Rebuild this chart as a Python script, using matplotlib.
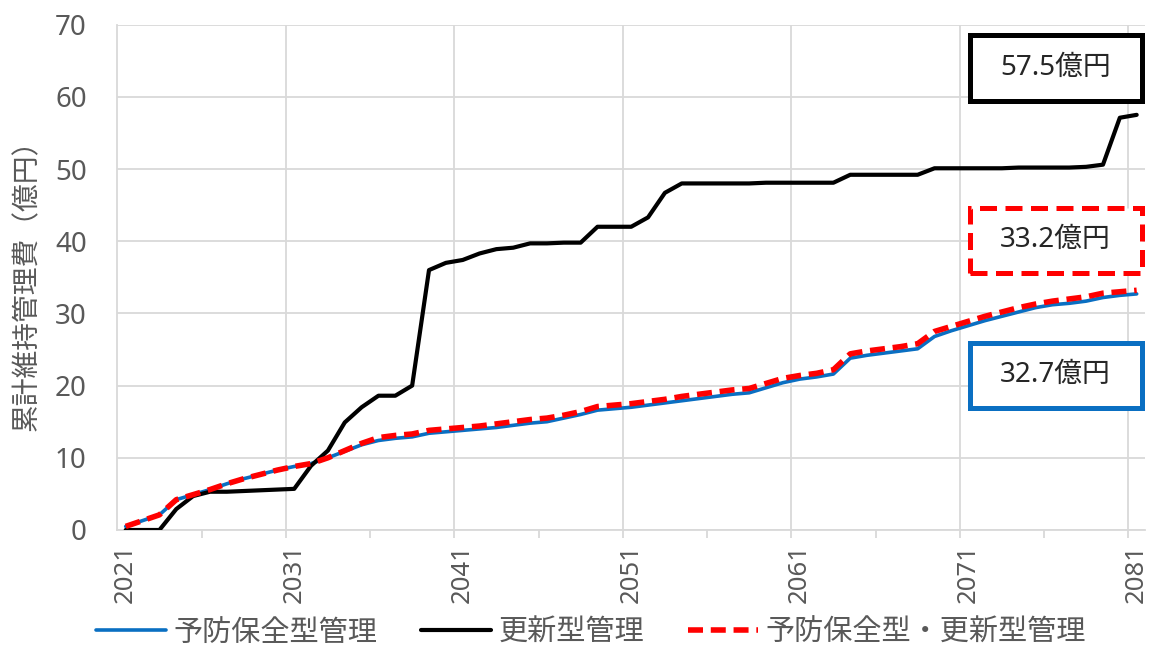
import matplotlib
matplotlib.use("Agg")
import matplotlib.pyplot as plt
from matplotlib.patches import Rectangle

plt.rcParams['font.family'] = ['Noto Sans', 'Noto Sans CJK JP', 'DejaVu Sans']

# ---- data ---------------------------------------------------------------
years = list(range(2021, 2082))

# 予防保全型管理 (cumulative, 億円)
preventive = [
    0.5, 1.3, 2.1, 4.2, 4.9, 5.6, 6.4, 7.1, 7.7, 8.3,
    8.8, 9.2, 10.0, 10.9, 11.8, 12.4, 12.7, 12.9, 13.4, 13.6,
    13.8, 14.0, 14.2, 14.5, 14.8, 15.0, 15.5, 16.0, 16.6, 16.8,
    17.0, 17.3, 17.6, 17.9, 18.2, 18.5, 18.8, 19.0, 19.7, 20.4,
    20.9, 21.2, 21.6, 23.8, 24.2, 24.5, 24.8, 25.1, 26.8, 27.6,
    28.3, 29.0, 29.6, 30.2, 30.8, 31.2, 31.4, 31.7, 32.2, 32.5,
    32.7,
]

# 更新型管理
renewal = [
    0.0, 0.0, 0.0, 2.9, 4.7, 5.3, 5.3, 5.4, 5.5, 5.6,
    5.7, 8.9, 11.0, 14.9, 17.0, 18.6, 18.6, 20.0, 36.0, 37.0,
    37.4, 38.3, 38.9, 39.1, 39.7, 39.7, 39.8, 39.8, 42.0, 42.0,
    42.0, 43.3, 46.7, 48.0, 48.0, 48.0, 48.0, 48.0, 48.1, 48.1,
    48.1, 48.1, 48.1, 49.2, 49.2, 49.2, 49.2, 49.2, 50.1, 50.1,
    50.1, 50.1, 50.1, 50.2, 50.2, 50.2, 50.2, 50.3, 50.6, 57.1,
    57.5,
]

# 予防保全型・更新型管理
combined = [
    0.5, 1.3, 2.1, 4.2, 4.9, 5.6, 6.4, 7.1, 7.7, 8.3,
    8.8, 9.2, 10.0, 11.0, 12.0, 12.8, 13.1, 13.3, 13.8, 14.0,
    14.2, 14.4, 14.7, 15.0, 15.3, 15.5, 15.9, 16.4, 17.1, 17.3,
    17.5, 17.8, 18.1, 18.5, 18.8, 19.1, 19.4, 19.6, 20.3, 21.0,
    21.4, 21.7, 22.2, 24.4, 24.8, 25.1, 25.4, 25.8, 27.5, 28.2,
    28.9, 29.6, 30.2, 30.8, 31.3, 31.7, 32.0, 32.3, 32.8, 33.0,
    33.2,
]

series_labels = ['予防保全型管理', '更新型管理', '予防保全型・更新型管理']
y_label = '累計維持管理費（億円）'
unit = '億円'
x_tick_years = list(range(2021, 2082, 10))
y_ticks = list(range(0, 71, 10))

# ---- styles -------------------------------------------------------------
BLUE = '#0a6fc2'
BLACK = '#000000'
RED = '#ff0000'
GRID = '#d9d9d9'
TICK_TXT = '#595959'

W, H = 1153, 648
fig = plt.figure(figsize=(W / 100, H / 100), dpi=100)

# axes rectangle (in pixels: left, top, right, bottom)
L, T, R, B = 117.3, 24.6, 1145.1, 530.0
ax = fig.add_axes([L / W, 1 - B / H, (R - L) / W, (B - T) / H])

ax.set_xlim(years[0] - 0.5, years[-1] + 0.5)
ax.set_ylim(0, 70)

# horizontal gridlines
ax.set_yticks(y_ticks)
ax.yaxis.grid(True, color=GRID, linewidth=1.3)
ax.set_axisbelow(True)
# vertical gridlines on category boundaries every 10 years
for yr in x_tick_years[1:]:
    ax.axvline(yr - 0.5, color=GRID, linewidth=1.3, zorder=0)

# category labels centred on the category, tick marks on the boundaries
ax.set_xticks(x_tick_years)
ax.set_xticklabels([str(y) for y in x_tick_years], rotation=90,
                   fontsize=18.5, color=TICK_TXT)
ax.tick_params(axis='x', which='major', length=0, pad=10)
ax.set_xticks([y - 0.5 for y in range(years[0] + 5, years[-1] + 1, 5)], minor=True)
ax.tick_params(axis='x', which='minor', length=6, width=1.3, color=GRID,
               direction='out')

ax.tick_params(axis='y', length=0, pad=22, labelsize=20, labelcolor=TICK_TXT)

for side in ('top', 'right'):
    ax.spines[side].set_visible(False)
for side in ('left', 'bottom'):
    ax.spines[side].set_color(GRID)
    ax.spines[side].set_linewidth(1.3)

# ---- series -------------------------------------------------------------
l_prev, = ax.plot(years, preventive, color=BLUE, linewidth=2.6,
                  solid_joinstyle='round', solid_capstyle='round',
                  label=series_labels[0], zorder=3)
l_ren, = ax.plot(years, renewal, color=BLACK, linewidth=3.0,
                 solid_joinstyle='round', solid_capstyle='round',
                 label=series_labels[1], zorder=4)
l_comb, = ax.plot(years, combined, color=RED, linewidth=4.0,
                  linestyle=(0, (2.7, 1.4)), dash_capstyle='butt',
                  label=series_labels[2], zorder=5)

# ---- y-axis title -------------------------------------------------------
fig.text(27.5 / W, 1 - 278 / H, y_label, rotation=90, ha='center',
         va='center', fontsize=20, color=TICK_TXT)

# ---- legend -------------------------------------------------------------
fig.legend(handles=[l_prev, l_ren, l_comb], labels=series_labels,
           loc='center', bbox_to_anchor=(591 / W, 1 - 633 / H), ncol=3,
           frameon=False, fontsize=21, handlelength=2.4, handletextpad=0.25,
           columnspacing=1.5, labelcolor=TICK_TXT)

# ---- total boxes --------------------------------------------------------
def total_box(top, bottom, value, color, dashed=False):
    x0, x1 = 969.5, 1141.5
    rect = Rectangle((x0 / W, 1 - bottom / H), (x1 - x0) / W,
                     (bottom - top) / H, transform=fig.transFigure,
                     facecolor='white', edgecolor=color, linewidth=3.6,
                     linestyle=(0, (3.4, 1.7)) if dashed else '-',
                     capstyle='butt', joinstyle='miter', zorder=10)
    fig.add_artist(rect)
    fig.text((x0 + x1) / 2 / W, 1 - (top + bottom) / 2 / H,
             f'{value:.1f}{unit}', ha='center', va='center',
             fontsize=20, color='#262626', zorder=11)

total_box(34.5, 100.5, renewal[-1], BLACK)
total_box(207.5, 272.5, combined[-1], RED, dashed=True)
total_box(342.5, 407.5, preventive[-1], BLUE)

fig.savefig('out.png', dpi=100, facecolor='white')
